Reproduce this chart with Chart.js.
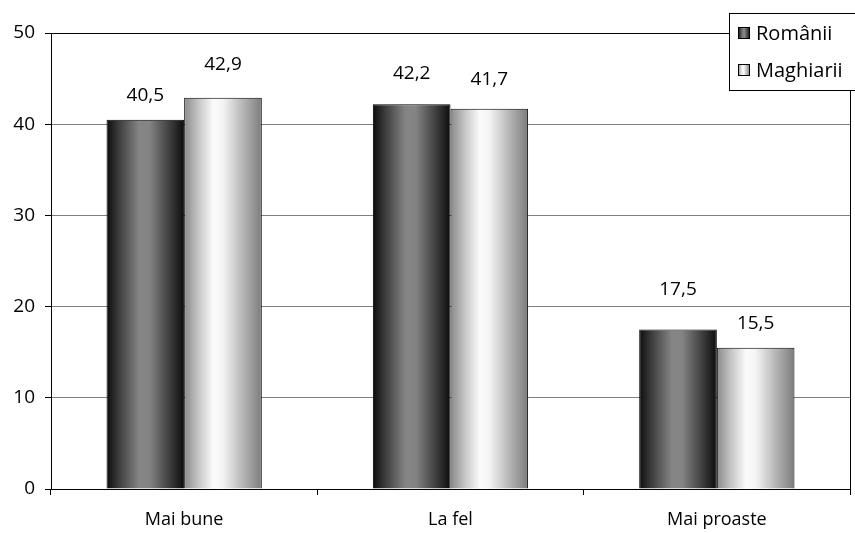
<!DOCTYPE html>
<html>
<head>
<meta charset="utf-8">
<script src="https://cdn.jsdelivr.net/npm/chart.js@4.4.1/dist/chart.umd.min.js"></script>
<style>
  html, body { margin: 0; background: #fff; }
  canvas { display: block; }
</style>
</head>
<body>
<canvas id="chart" width="855" height="533"></canvas>
<script>
const categories = ["Mai bune", "La fel", "Mai proaste"];
const romanii = [40.5, 42.2, 17.5];
const maghiarii = [42.9, 41.7, 15.5];
const seriesNames = ["Românii", "Maghiarii"];
const yTicks = [0, 10, 20, 30, 40, 50];

// value labels were hand placed in the original, px above each bar top
const labelLift = [[24, 31, 40], [33, 29, 24]];

const FONT = "'Open Sans', Lato, sans-serif";

function barGradient(c, x0, x1, dark) {
    const g = c.createLinearGradient(x0, 0, x1, 0);
    if (dark) {
        g.addColorStop(0, "#0c0c0c");
        g.addColorStop(0.15, "#3a3a3a");
        g.addColorStop(0.42, "#858585");
        g.addColorStop(0.55, "#848484");
        g.addColorStop(0.82, "#3c3c3c");
        g.addColorStop(1, "#0c0c0c");
    } else {
        g.addColorStop(0, "#8a8a8a");
        g.addColorStop(0.18, "#c4c4c4");
        g.addColorStop(0.38, "#fbfbfb");
        g.addColorStop(0.5, "#f4f4f4");
        g.addColorStop(0.78, "#b0b0b0");
        g.addColorStop(1, "#7c7c7c");
    }
    return g;
}

const shading = {
    id: "shading",
    beforeDatasetsDraw(chart) {
        const c = chart.ctx;
        chart.data.datasets.forEach((ds, i) => {
            chart.getDatasetMeta(i).data.forEach(bar => {
                const half = bar.width / 2;
                // options objects are shared between bars, so give each its own copy
                bar.options = Object.assign({}, bar.options, {
                    backgroundColor: barGradient(c, bar.x - half, bar.x + half, i === 0)
                });
            });
        });
    },
    afterDatasetsDraw(chart) {
        const c = chart.ctx;
        c.save();
        c.font = "19px " + FONT;
        c.fillStyle = "#000";
        c.textAlign = "center";
        c.textBaseline = "middle";
        chart.data.datasets.forEach((ds, i) => {
            chart.getDatasetMeta(i).data.forEach((bar, j) => {
                const txt = String(ds.data[j]).replace(".", ",");
                c.fillText(txt, bar.x, bar.y - labelLift[i][j]);
            });
        });
        c.restore();
    },
    afterDraw(chart) {
        const c = chart.ctx;
        const area = chart.chartArea;
        c.save();
        // right frame of the plot
        c.strokeStyle = "#000";
        c.lineWidth = 1;
        c.beginPath();
        c.moveTo(area.right + 0.5, area.top);
        c.lineTo(area.right + 0.5, area.bottom + 6);
        c.stroke();

        // legend box
        const lx = 729.5, ly = 13.5, lw = 130, lh = 77;
        c.fillStyle = "#fff";
        c.fillRect(lx, ly, lw, lh);
        c.strokeRect(lx, ly, lw, lh);
        c.font = "20px " + FONT;
        c.textBaseline = "middle";
        c.textAlign = "left";
        chart.data.datasets.forEach((ds, i) => {
            const cy = 33 + i * 37;
            c.fillStyle = barGradient(c, 738, 750, i === 0);
            c.fillRect(738, cy - 6, 12, 12);
            c.strokeStyle = "#000";
            c.strokeRect(738.5, cy - 5.5, 11, 11);
            c.fillStyle = "#000";
            c.fillText(ds.label, 756, cy + 1);
        });
        c.restore();
    }
};

new Chart(document.getElementById("chart"), {
    type: "bar",
    data: {
        labels: categories,
        datasets: [{
            label: seriesNames[0],
            data: romanii,
            borderColor: "#000",
            borderWidth: 1
        }, {
            label: seriesNames[1],
            data: maghiarii,
            borderColor: "#000",
            borderWidth: 1
        }]
    },
    options: {
        responsive: false,
        animation: false,
        layout: { padding: { top: 33, right: 5, left: 0, bottom: 0 } },
        datasets: {
            bar: { categoryPercentage: 0.583, barPercentage: 1 }
        },
        plugins: {
            legend: { display: false },
            tooltip: { enabled: false }
        },
        scales: {
            x: {
                offset: true,
                afterFit: s => { s.height = 44; },
                grid: {
                    offset: true,
                    drawOnChartArea: false,
                    tickLength: 6,
                    tickColor: "#000"
                },
                border: { color: "#000", width: 1 },
                ticks: { color: "#000", padding: 14, font: { family: FONT, size: 18 } }
            },
            y: {
                min: 0,
                max: 50,
                afterFit: s => { s.width = 51; },
                afterBuildTicks: s => { s.ticks = yTicks.map(v => ({ value: v })); },
                grid: {
                    color: ctx => ctx.tick && ctx.tick.value === 50 ? "#000" : "#808080",
                    tickLength: 6,
                    tickColor: "#000"
                },
                border: { color: "#000", width: 1 },
                ticks: { color: "#000", padding: 10, font: { family: FONT, size: 19 } }
            }
        }
    },
    plugins: [shading]
});
</script>
</body>
</html>
